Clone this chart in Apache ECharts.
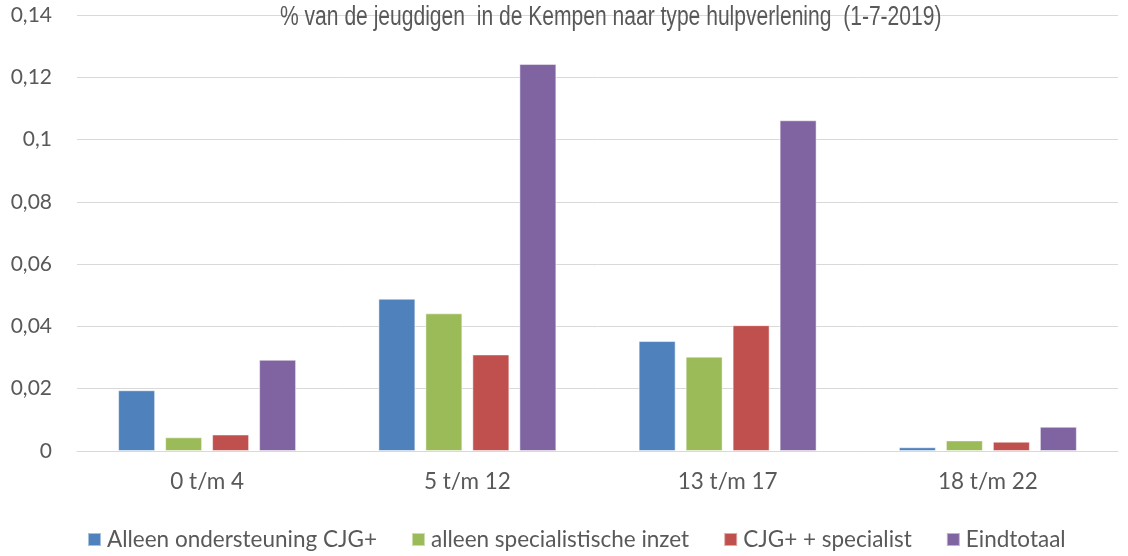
<!DOCTYPE html>
<html><head><meta charset="utf-8">
<script src="https://cdn.jsdelivr.net/npm/echarts@6/dist/echarts.min.js"></script>
<style>html,body{margin:0;padding:0;background:#fff}#c{width:1128px;height:556px}</style>
</head><body><div id="c"></div>
<script>
const categories = ['0 t/m 4', '5 t/m 12', '13 t/m 17', '18 t/m 22'];
const seriesNames = ['Alleen ondersteuning CJG+', 'alleen specialistische inzet', 'CJG+ + specialist', 'Eindtotaal'];
const alleenCJG = [0.0195, 0.0489, 0.0353, 0.0012];
const alleenSpecialist = [0.0044, 0.0442, 0.0303, 0.0034];
const cjgPlusSpecialist = [0.0053, 0.0310, 0.0404, 0.0030];
const eindtotaal = [0.0293, 0.1243, 0.1062, 0.0078];
const colors = ['#4F81BD', '#9BBB59', '#C0504D', '#8064A2'];
const titleText = '% van de jeugdigen  in de Kempen naar type hulpverlening  (1-7-2019)';

const values = [alleenCJG, alleenSpecialist, cjgPlusSpecialist, eindtotaal];
const chart = echarts.init(document.getElementById('c'), null, {renderer: 'canvas'});
const font = 'Lato, "Open Sans", sans-serif';
chart.setOption({
  animation: false,
  color: colors,
  graphic: [{
    type: 'text', left: 280, top: 4, scaleX: 0.78, z: 10,
    style: {text: titleText, fontFamily: '"Liberation Sans", Arial, sans-serif', fontSize: 27, fill: '#595959'}
  }],
  legend: {
    data: seriesNames, top: 523, left: 82,
    itemWidth: 13, itemHeight: 13, itemGap: 34, icon: 'rect',
    textStyle: {fontFamily: font, fontSize: 22.5, color: '#595959', padding: [0, 0, 0, 1]}
  },
  grid: {left: 77, right: 10, top: 15, bottom: 105},
  xAxis: {
    type: 'category', data: categories,
    axisLine: {lineStyle: {color: '#d9d9d9', width: 1}},
    axisTick: {show: false},
    axisLabel: {fontFamily: font, fontSize: 22.5, color: '#595959', margin: 19}
  },
  yAxis: {
    type: 'value', min: 0, max: 0.14, interval: 0.02,
    axisLine: {show: false}, axisTick: {show: false},
    splitLine: {lineStyle: {color: '#d9d9d9', width: 1}},
    axisLabel: {fontFamily: font, fontSize: 21, color: '#595959', margin: 25,
      formatter: v => String(+v.toFixed(2)).replace('.', ',')}
  },
  series: seriesNames.map((n, i) => ({
    name: n, type: 'bar', data: values[i],
    barWidth: 37, barGap: '27%',
    itemStyle: {color: colors[i], borderColor: 'rgba(255,255,255,0.5)', borderWidth: 1}
  }))
});
</script></body></html>
